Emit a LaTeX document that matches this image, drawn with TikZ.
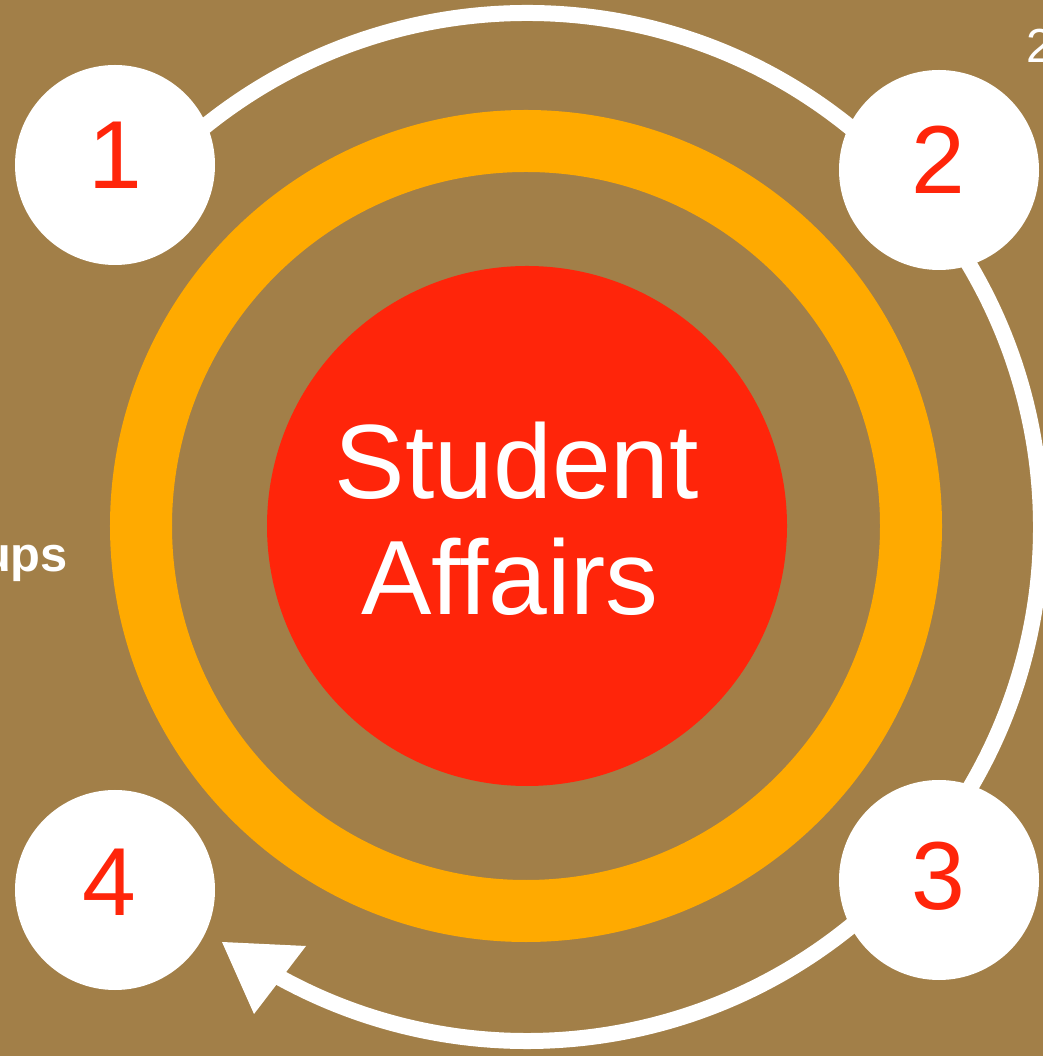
\documentclass[tikz,border=0pt]{standalone}
\usepackage{fontspec}
\setmainfont{Liberation Sans}
\definecolor{bgbrown}{HTML}{A27F48}
\definecolor{ringorange}{HTML}{FFAA00}
\definecolor{corered}{HTML}{FF250A}
\begin{document}
\begin{tikzpicture}[x=1bp,y=1bp,
  numcirc/.style={circle,fill=white,minimum size=200bp,inner sep=0pt},
  numtext/.style={text=corered,font=\fontsize{97}{110}\selectfont,inner sep=0pt},
  bigtext/.style={text=white,font=\fontsize{106}{120}\selectfont,inner sep=0pt,anchor=base},
  cyclearc/.style={draw=white,line width=16bp}]
\useasboundingbox (0,0) rectangle (1043,1056);
\fill[bgbrown] (0,0) rectangle (1043,1056);
% side texts
\node[text=white,font=\fontsize{49}{54}\selectfont\bfseries,anchor=base east,inner sep=0pt] (ups) at (68,484) {ups};
\node[text=white,font=\fontsize{48}{54}\selectfont,anchor=base west,inner sep=0pt] (two) at (1026,993) {2};
% rings
\coordinate (ctr) at (526,530);
\draw[ringorange,line width=62bp] (ctr) circle[radius=385bp];
\fill[corered] (527,530) circle[radius=260bp];
\node[bigtext] (stu) at (517,557) {Student};
\node[bigtext] (aff) at (510,441) {Affairs};
% cycle arc
\coordinate (ac) at (527,529);
\draw[cyclearc] (ac) ++(139:514bp) arc[start angle=139,end angle=-121,radius=514bp];
\coordinate (t1) at (222,114);
\coordinate (t2) at (306,110);
\coordinate (t3) at (254,42);
\fill[white] (t1) -- (t2) -- (t3) -- cycle;
% number circles
\node[numcirc] (c1) at (115,891) {};
\node[numcirc] (c2) at (939,886) {};
\node[numcirc] (c3) at (939,176) {};
\node[numcirc] (c4) at (115,166) {};
\node[numtext] (l1) at (115,901) {1};
\node[numtext] (l2) at (938,896) {2};
\node[numtext] (l3) at (938,180) {3};
\node[numtext] (l4) at (109,174) {4};
\end{tikzpicture}
\end{document}
